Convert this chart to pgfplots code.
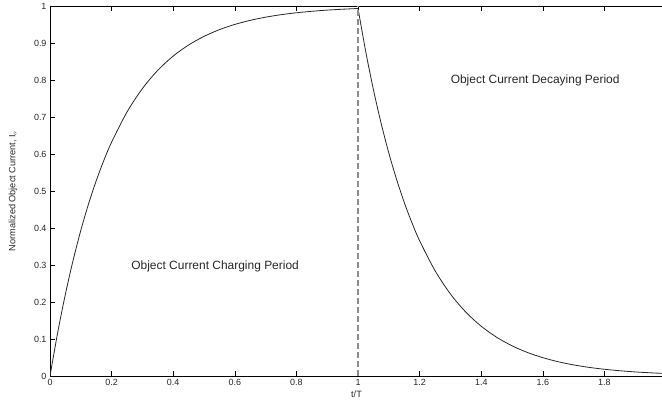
\documentclass[border=0pt]{standalone}
\usepackage{pgfplots}
\pgfplotsset{compat=1.18}
\usepackage{fontspec}
\setmainfont{Liberation Sans}

% Charging branch: I = 1 - exp(-t/0.2), sampled every 0.025
\pgfplotstableread{
t      I
0      0
0.025  0.1175
0.05   0.2212
0.075  0.3127
0.1    0.3935
0.125  0.4647
0.15   0.5276
0.175  0.5831
0.2    0.6321
0.25   0.7135
0.3    0.7769
0.35   0.8262
0.4    0.8647
0.45   0.8946
0.5    0.9179
0.55   0.9361
0.6    0.9502
0.65   0.9612
0.7    0.9698
0.75   0.9765
0.8    0.9817
0.85   0.9857
0.9    0.9889
0.95   0.9913
1.0    0.9933
}\charging

% Decaying branch: I = 0.9933 exp(-(t-1)/0.2)
\pgfplotstableread{
t      I
1.0    0.9933
1.025  0.8766
1.05   0.7736
1.075  0.6827
1.1    0.6024
1.125  0.5317
1.15   0.4692
1.175  0.4141
1.2    0.3654
1.25   0.2846
1.3    0.2216
1.35   0.1726
1.4    0.1344
1.45   0.1047
1.5    0.0816
1.55   0.0635
1.6    0.0495
1.65   0.0385
1.7    0.0300
1.75   0.0233
1.8    0.0182
1.85   0.0142
1.9    0.0110
1.95   0.0086
2.0    0.0067
}\decaying

\begin{document}
\begin{tikzpicture}
\begin{axis}[
  scale only axis,
  width=613bp, height=370bp,
  at={(0,0)}, anchor=origin,
  xmin=0, xmax=1.99, ymin=0, ymax=1,
  axis x line*=box, axis y line*=left,
  xtick={0,0.2,...,1.8},
  ytick={0,0.1,...,1},
  tick align=inside,
  xtick pos=both, ytick pos=left,
  major tick length=5bp,
  tick style={black, line width=0.6pt},
  axis line style={black, line width=0.8pt},
  tick label style={font=\fontsize{9}{11}\selectfont, text=black!85},
  /pgf/number format/assume math mode=true,
  xlabel={t/T},
  ylabel={Normalized Object Current, I$_o$},
  label style={font=\fontsize{9.2}{11}\selectfont, text=black!85},
  xlabel style={at={(axis description cs:0.5,0)}, anchor=center, yshift=-18bp},
  ylabel style={at={(axis description cs:-0.0604,0.5)}, anchor=center},
  clip=true,
]
\addplot[black!85, line width=0.8pt, smooth] table[x=t, y=I] {\charging};
\addplot[black!85, line width=0.8pt, smooth] table[x=t, y=I] {\decaying};
\addplot[black!45, line width=1.8pt, dash pattern=on 6bp off 3bp] coordinates {(1,0) (1,1)};
\node[font=\fontsize{12}{14}\selectfont, text=black!85] at (axis cs:0.536,0.296) {Object Current Charging Period};
\node[font=\fontsize{12}{14}\selectfont, text=black!85] at (axis cs:1.575,0.80) {Object Current Decaying Period};
\end{axis}
\pgfresetboundingbox
\path[use as bounding box] (-50bp,-28bp) rectangle (612bp,376bp);
\end{tikzpicture}
\end{document}
